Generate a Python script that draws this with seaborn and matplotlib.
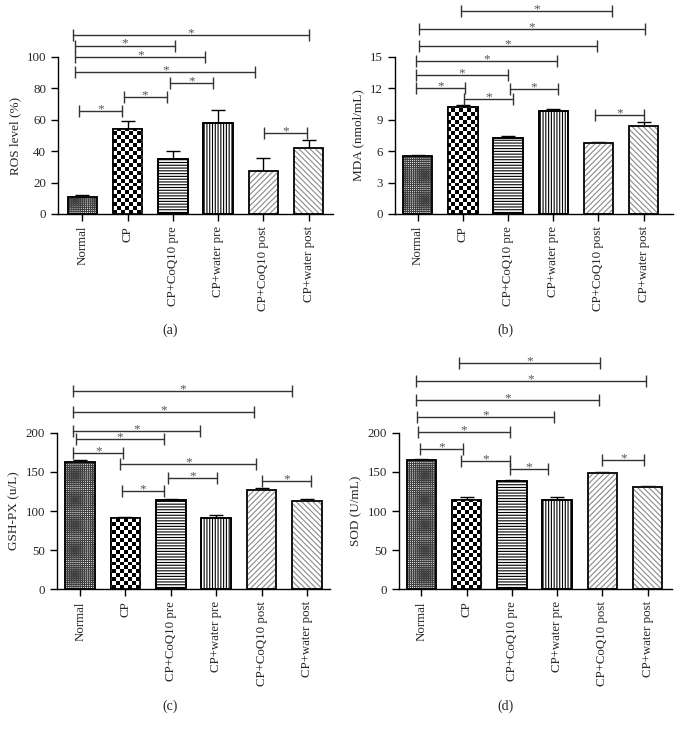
import numpy as np
import seaborn as sns
import matplotlib.pyplot as plt
from matplotlib.patches import Rectangle

groups = ['Normal', 'CP', 'CP+CoQ10 pre', 'CP+water pre', 'CP+CoQ10 post', 'CP+water post']

ros_mean = [10.5, 54, 35, 58, 27.5, 42]
ros_err = [1.8, 5.3, 5, 8, 8, 5]
mda_mean = [5.5, 10.2, 7.3, 9.85, 6.8, 8.45]
mda_err = [0.1, 0.2, 0.15, 0.2, 0.12, 0.35]
gsh_mean = [163, 90.6, 114, 90.6, 127, 113]
gsh_err = [2.5, 1.5, 2, 4, 3, 2]
sod_mean = [164.7, 114, 138, 113.6, 148, 130.6]
sod_err = [1.7, 3.4, 1.6, 4.3, 1.4, 1.4]

# significance brackets: (from, to, height)
ros_sig = [(-0.08, 0.87, 65.5), (0.91, 1.86, 74.3), (1.93, 2.88, 83.6), (-0.15, 3.81, 90.2),
           (-0.15, 2.72, 100), (-0.15, 2.04, 107.2), (-0.21, 5.01, 113.8), (4.01, 4.96, 51.5)]
mda_sig = [(0.96, 4.31, 19.4), (0.02, 5.04, 17.7), (0.02, 3.96, 16.0), (-0.04, 3.08, 14.6),
           (-0.04, 2.01, 13.3), (-0.04, 1.04, 12.0), (1.03, 2.1, 11.0), (2.04, 3.11, 11.9),
           (3.93, 5.01, 9.45)]
gsh_sig = [(-0.15, 4.68, 253.6), (-0.15, 3.84, 226), (-0.15, 2.64, 202.6), (-0.09, 1.85, 191.5),
           (-0.15, 0.95, 173.6), (0.89, 3.88, 160), (1.93, 3.02, 141.7), (0.92, 1.86, 126),
           (4.0, 5.09, 138.7)]
sod_sig = [(0.84, 3.94, 288.5), (-0.12, 4.96, 266.4), (-0.12, 3.93, 241.7), (-0.09, 2.92, 219.6),
           (-0.07, 1.96, 200.4), (-0.02, 0.92, 179.6), (0.87, 1.96, 163.8), (1.96, 2.8, 153.2),
           (4.0, 4.92, 165.5)]

sns.set_style('ticks')
plt.rcParams['font.family'] = ['Liberation Serif', 'DejaVu Serif']
plt.rcParams['hatch.linewidth'] = 0.8

hatches = [('++++++++', '#404040'), (None, 'black'), ('------', 'black'),
           ('||||||', 'black'), ('//////', '#8a8a8a'), ('\\\\\\\\\\\\', '#8a8a8a')]


def panel(ax, means, errs, sig, ylabel, yticks, xlim):
    sns.barplot(x=groups, y=means, ax=ax, color='white', saturation=1, width=0.65,
                edgecolor='black', linewidth=1.2, errorbar=None)
    ax.errorbar(range(len(groups)), means, yerr=[np.zeros(len(errs)), errs], fmt='none',
                ecolor='black', elinewidth=1, capsize=5, capthick=1, zorder=0.5)
    for bar, (h, c) in zip(ax.patches, hatches):
        if h:
            bar.set_hatch(h)
        bar.set_edgecolor(c)
        ax.add_patch(Rectangle(bar.get_xy(), bar.get_width(), bar.get_height(),
                               fill=False, edgecolor='black', linewidth=1.2, zorder=3))
    # checkerboard for CP
    cb = (np.indices((40, 70)).sum(axis=0) % 2).astype(float)
    im = ax.imshow(cb, cmap='gray_r', extent=(0, 1, 0, 1), transform=ax.transAxes,
                   aspect='auto', interpolation='nearest', zorder=2)
    im.set_clip_path(ax.patches[1])
    for x1, x2, y in sig:
        ax.plot([x1, x2], [y, y], color='#333333', lw=1, clip_on=False)
        ax.plot([x1, x2], [y, y], ls='none', marker='|', ms=8, mew=1,
                color='#333333', clip_on=False)
        ax.annotate('*', ((x1 + x2) / 2, y), xytext=(0, -3), textcoords='offset points',
                    ha='center', va='bottom', fontsize=9.5, color='#555555',
                    annotation_clip=False)
    ax.set_xlim(*xlim)
    ax.set_ylim(yticks[0], yticks[-1])
    ax.set_yticks(yticks)
    ax.set_ylabel(ylabel, fontsize=9.5)
    ax.set_xticks(range(len(groups)))
    ax.set_xticklabels(groups, rotation=90)
    ax.tick_params(labelsize=9.3, length=5, width=1, color='black')
    for s in ['left', 'bottom']:
        ax.spines[s].set_linewidth(1)
        ax.spines[s].set_color('black')
    sns.despine(ax=ax)


fig = plt.figure(figsize=(6.8, 7.32), dpi=100)
ax_a = fig.add_axes([0.0853, 0.7077, 0.4044, 0.2145])
ax_b = fig.add_axes([0.5809, 0.7077, 0.4088, 0.2145])
ax_c = fig.add_axes([0.0838, 0.1949, 0.4015, 0.2139])
ax_d = fig.add_axes([0.5863, 0.1949, 0.4015, 0.2139])

panel(ax_a, ros_mean, ros_err, ros_sig, 'ROS level (%)', [0, 20, 40, 60, 80, 100], (-0.536, 5.535))
panel(ax_b, mda_mean, mda_err, mda_sig, 'MDA (nmol/mL)', [0, 3, 6, 9, 12, 15], (-0.5, 5.65))
panel(ax_c, gsh_mean, gsh_err, gsh_sig, 'GSH-PX (u/L)', [0, 50, 100, 150, 200], (-0.51, 5.51))
panel(ax_d, sod_mean, sod_err, sod_sig, 'SOD (U/mL)', [0, 50, 100, 150, 200], (-0.5, 5.53))

for x, y, t in [(0.25, 0.549, '(a)'), (0.744, 0.549, '(b)'), (0.25, 0.0355, '(c)'), (0.744, 0.0355, '(d)')]:
    fig.text(x, y, t, ha='center', va='center', fontsize=10)

fig.savefig('out.png', dpi=100)
